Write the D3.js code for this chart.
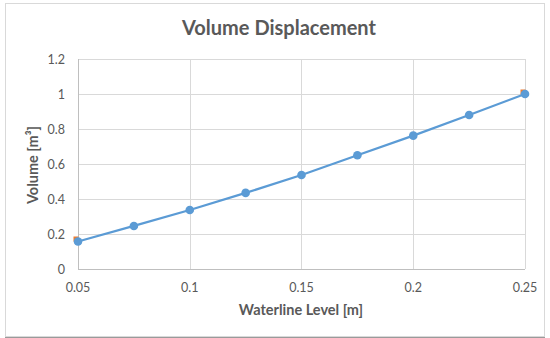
<!DOCTYPE html>
<html>
<head>
<meta charset="utf-8">
<script src="https://cdn.jsdelivr.net/npm/d3@7"></script>
<style>
  body { margin: 0; background: #fff; }
  text { font-family: Lato, "Open Sans", sans-serif; fill: #595959; }
</style>
</head>
<body>
<svg id="chart" width="550" height="338"></svg>
<script>
// waterline level [m] and volume [m3]
var levels = [0.05, 0.075, 0.1, 0.125, 0.15, 0.175, 0.2, 0.225, 0.25];
var volumes = [0.157, 0.246, 0.337, 0.435, 0.537, 0.65, 0.762, 0.88, 1.0];
// second (hidden) series, only its end markers show
var endLevels = [0.05, 0.25];
var endVolumes = [0.16, 1.0];
var xTicks = [0.05, 0.1, 0.15, 0.2, 0.25];
var yTicks = [0, 0.2, 0.4, 0.6, 0.8, 1, 1.2];

var svg = d3.select("#chart");
var margin = {top: 59, right: 25, bottom: 69, left: 78};
var width = 550 - margin.left - margin.right,
    height = 338 - margin.top - margin.bottom;

// frame
svg.append("rect")
    .attr("x", 5.5).attr("y", 3.5)
    .attr("width", 539).attr("height", 333)
    .attr("fill", "#fff")
    .attr("stroke", "#d9d9d9");
svg.append("line")
    .attr("x1", 5).attr("x2", 545).attr("y1", 337.5).attr("y2", 337.5)
    .attr("stroke", "#9a9a9a");

var x = d3.scaleLinear().domain([0.05, 0.25]).range([0, width]);
var y = d3.scaleLinear().domain([0, 1.2]).range([height, 0]);

var g = svg.append("g").attr("transform", "translate(" + margin.left + "," + margin.top + ")");

// grid
g.selectAll(".hgrid").data(yTicks).enter().append("line")
    .attr("x1", 0).attr("x2", width)
    .attr("y1", function (d) { return Math.round(y(d)) + 0.5; })
    .attr("y2", function (d) { return Math.round(y(d)) + 0.5; })
    .attr("stroke", "#d9d9d9");
g.selectAll(".vgrid").data(xTicks).enter().append("line")
    .attr("y1", 0).attr("y2", height)
    .attr("x1", function (d) { return Math.round(x(d)) + 0.5; })
    .attr("x2", function (d) { return Math.round(x(d)) + 0.5; })
    .attr("stroke", "#d9d9d9");

// axes lines
g.append("line").attr("x1", 0.5).attr("x2", 0.5).attr("y1", 0).attr("y2", height).attr("stroke", "#bfbfbf");
g.append("line").attr("x1", 0).attr("x2", width).attr("y1", height + 0.5).attr("y2", height + 0.5).attr("stroke", "#bfbfbf");

// tick labels
g.selectAll(".ylbl").data(yTicks).enter().append("text")
    .attr("x", -13)
    .attr("y", function (d) { return y(d) + 4.5; })
    .attr("text-anchor", "end")
    .style("font-size", "12.5px")
    .text(function (d) { return d; });
g.selectAll(".xlbl").data(xTicks).enter().append("text")
    .attr("x", function (d) { return x(d); })
    .attr("y", height + 23)
    .attr("text-anchor", "middle")
    .style("font-size", "12.5px")
    .text(function (d) { return d; });

// hidden series markers
g.selectAll(".sq").data(endLevels).enter().append("rect")
    .attr("x", function (d) { return x(d) - 4.5; })
    .attr("y", function (d, i) { return y(endVolumes[i]) - 4.5; })
    .attr("width", 5).attr("height", 5)
    .attr("fill", "#ed7d31");

// main series
var line = d3.line()
    .x(function (d) { return x(d); })
    .y(function (d, i) { return y(volumes[i]); });
g.append("path")
    .datum(levels)
    .attr("d", line)
    .attr("fill", "none")
    .attr("stroke", "#5b9bd5")
    .attr("stroke-width", 2.25);
g.selectAll(".dot").data(levels).enter().append("circle")
    .attr("cx", function (d) { return x(d); })
    .attr("cy", function (d, i) { return y(volumes[i]); })
    .attr("r", 4.3)
    .attr("fill", "#5b9bd5");

// titles
svg.append("text")
    .attr("x", 279).attr("y", 35)
    .attr("text-anchor", "middle")
    .style("font-size", "20px").style("font-weight", "bold")
    .text("Volume Displacement");
svg.append("text")
    .attr("x", 301).attr("y", 315)
    .attr("text-anchor", "middle")
    .style("font-size", "14.5px").style("font-weight", "bold")
    .text("Waterline Level [m]");
svg.append("text")
    .attr("transform", "translate(38,165) rotate(-90)")
    .attr("text-anchor", "middle")
    .style("font-size", "14.5px").style("font-weight", "bold")
    .text("Volume [m³]");
</script>
</body>
</html>
